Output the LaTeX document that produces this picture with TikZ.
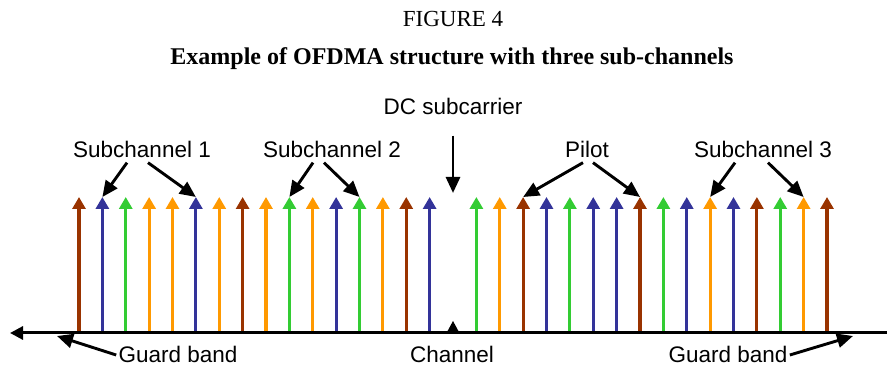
\documentclass[tikz,border=0pt]{standalone}
\usepackage{fontspec}
\setmainfont{Liberation Serif}
\setsansfont{Liberation Sans}
\usetikzlibrary{positioning,arrows.meta}

\definecolor{pbrown}{RGB}{153,51,0}
\definecolor{sblue}{RGB}{51,51,153}
\definecolor{sgreen}{RGB}{51,204,51}
\definecolor{sorange}{RGB}{255,153,0}

\begin{document}
\begin{tikzpicture}[
  x=0.5pt, y=-0.5pt,
  carrier/.style={line width=1.6pt,-{Triangle[width=6.5pt,length=6pt]}},
  pointer/.style={line width=1.45pt,-{Triangle[width=7pt,length=8pt]}},
  lbl/.style={font=\sffamily\fontsize{11.25}{13}\selectfont,inner sep=0pt}]
\useasboundingbox (0,0) rectangle (887,367);

\node[anchor=base,inner sep=0pt,font=\fontsize{11.5}{13}\selectfont] (fig) at (453,27) {FIGURE 4};
\node[anchor=base,inner sep=0pt,font=\bfseries\fontsize{12}{14}\selectfont] (title) at (452,65) {Example of OFDMA structure with three sub-channels};

% sub-carriers left and right of DC
\foreach \c [count=\i from -16] in {pbrown,sblue,sgreen,sorange,sorange,sblue,sorange,pbrown,sorange,sgreen,sorange,sblue,sgreen,sorange,pbrown,sblue}{
  \coordinate (b\i) at ({453+23.375*(\i)},333);
  \coordinate (t\i) at ({453+23.375*(\i)},197);
  \draw[carrier,\c] (b\i) -- (t\i);
}
\foreach \c [count=\i from 1] in {sgreen,sorange,pbrown,sblue,sgreen,sblue,sblue,pbrown,sgreen,sblue,sorange,sblue,pbrown,sgreen,sorange,pbrown}{
  \coordinate (b\i) at ({453+23.375*(\i)},333);
  \coordinate (t\i) at ({453+23.375*(\i)},197);
  \draw[carrier,\c] (b\i) -- (t\i);
}

% frequency axis
\coordinate (axl) at (10,333);
\coordinate (axr) at (900,333);
\draw[line width=1.5pt,{Triangle[width=6.5pt,length=6.5pt]}-{Triangle[width=6.5pt,length=6.5pt]}] (axl) -- (axr);
\fill (446.5,333) -- (459.5,333) -- (453,321) -- cycle;

% labels
\node[lbl] (dc) at (453,106) {DC subcarrier};
\node[lbl] (sc1) at (142,149) {Subchannel 1};
\node[lbl] (sc2) at (332,149) {Subchannel 2};
\node[lbl] (pil) at (587,149) {Pilot};
\node[lbl] (sc3) at (763,149) {Subchannel 3};
\node[lbl] (gl) at (178,354) {Guard band};
\node[lbl] (ch) at (452,354) {Channel};
\node[lbl] (gr) at (728,354) {Guard band};

\coordinate (dcp) at (453,193);
\coordinate (gbl) at (57,336);
\coordinate (gbr) at (853,336);

\draw[pointer] ([yshift=-10.5pt]dc.south) -- (dcp);
\draw[pointer] ([xshift=-7.5pt,yshift=-2.5pt]sc1.south) -- (t-15);
\draw[pointer] ([xshift=3pt,yshift=-2.5pt]sc1.south) -- (t-11);
\draw[pointer] ([xshift=-9.5pt,yshift=-2.5pt]sc2.south) -- (t-7);
\draw[pointer] ([xshift=-4pt,yshift=-2.5pt]sc2.south) -- (t-4);
\draw[pointer] ([xshift=-2pt,yshift=-2.5pt]pil.south) -- (t3);
\draw[pointer] ([xshift=3pt,yshift=-2.5pt]pil.south) -- (t8);
\draw[pointer] ([xshift=-14pt,yshift=-2.5pt]sc3.south) -- (t11);
\draw[pointer] ([xshift=2.5pt,yshift=-2.5pt]sc3.south) -- (t15);
\draw[pointer] ([xshift=-1pt,yshift=-0.5pt]gl.west) -- (gbl);
\draw[pointer] ([xshift=1pt,yshift=-0.5pt]gr.east) -- (gbr);
\end{tikzpicture}
\end{document}
